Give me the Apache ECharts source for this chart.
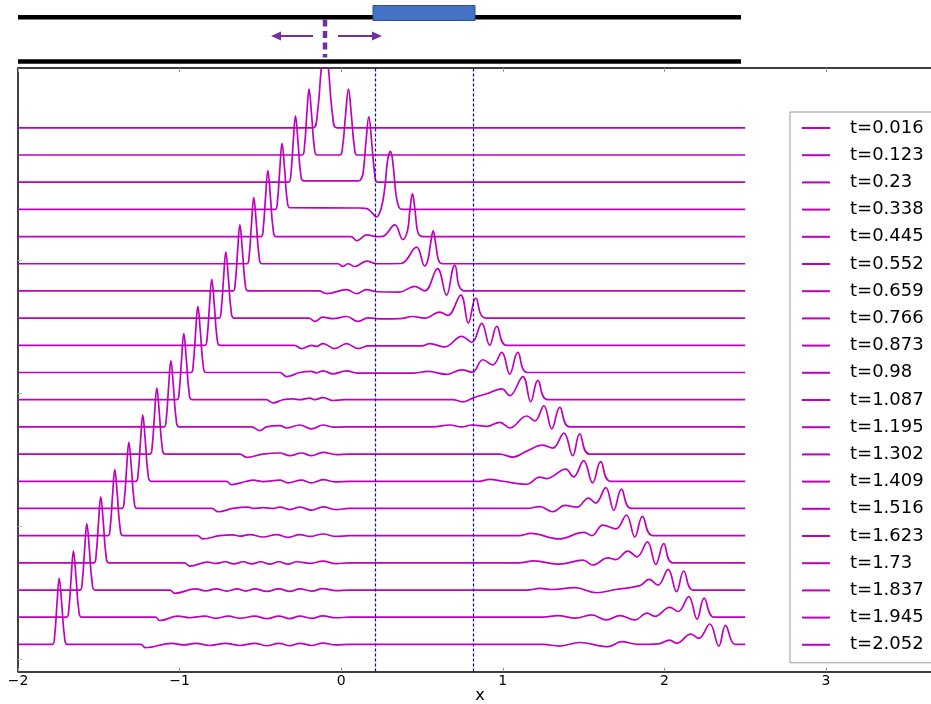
<!DOCTYPE html>
<html><head><meta charset="utf-8">
<script src="https://cdn.jsdelivr.net/npm/echarts@6/dist/echarts.min.js"></script>
<style>html,body{margin:0;padding:0;background:#fff}#c{width:931px;height:704px}</style>
</head><body><div id="c"></div>
<script>
const tValues = [0.016,0.123,0.23,0.338,0.445,0.552,0.659,0.766,0.873,0.98,1.087,1.195,1.302,1.409,1.516,1.623,1.73,1.837,1.945,2.052];
const xTickValues = [-2,-1,0,1,2,3];
const yTickValues = [-0.54,4.35,9.24,14.13,19.02];
const barrierX = [0.213, 0.816];

const c0 = [[-2,0],[-0.175,0],[-0.149,0.46],[-0.125,2.06],[-0.101,3.4],[-0.077,2.06],[-0.053,0.46],[-0.027,0],[2.5,0]];
const c1 = [[-2,0],[-0.241,0],[-0.227,0.33],[-0.213,1.47],[-0.199,2.42],[-0.183,1.47],[-0.167,0.33],[-0.149,0],[-0.009,0],[0.009,0.33],[0.027,1.47],[0.045,2.42],[0.063,1.47],[0.081,0.33],[0.099,0],[2.5,0]];
const c2 = [[-2,0],[-0.325,0],[-0.311,0.33],[-0.297,1.47],[-0.283,2.43],[-0.267,1.47],[-0.251,0.33],[-0.233,0.05],[0.10,0.05],[0.117,0.07],[0.135,0.33],[0.153,1.46],[0.171,2.40],[0.189,1.46],[0.207,0.33],[0.225,0],[2.5,0]];
const c3 = [[-2,0],[-0.408,0],[-0.394,0.33],[-0.380,1.47],[-0.366,2.43],[-0.350,1.47],[-0.334,0.33],[-0.316,0.06],[0.12,0.05],[0.16,0.03],[0.19,-0.12],[0.218,-0.28],[0.248,0.05],[0.270,0.8],[0.287,1.8],[0.305,2.13],[0.322,1.6],[0.340,0.5],[0.358,0.07],[0.378,0],[2.5,0]];
const c4 = [[-2,0],[-0.496,0],[-0.482,0.33],[-0.468,1.47],[-0.454,2.43],[-0.438,1.47],[-0.422,0.33],[-0.404,0],[0.06,0],[0.097,-0.15],[0.158,0.06],[0.22,0],[0.257,0.01],[0.332,0.43],[0.381,-0.11],[0.41,0.21],[0.425,0.96],[0.441,1.58],[0.457,0.96],[0.472,0.21],[0.49,0.02],[0.51,0],[2.5,0]];
const c5 = [[-2,0],[-0.583,0],[-0.569,0.33],[-0.555,1.47],[-0.541,2.43],[-0.525,1.47],[-0.509,0.33],[-0.491,0],[-0.02,0],[0.010,-0.10],[0.041,0],[0.084,-0.10],[0.158,0.10],[0.22,0],[0.37,0.01],[0.466,0.61],[0.517,-0.08],[0.537,0.16],[0.553,0.73],[0.569,1.21],[0.585,0.73],[0.601,0.16],[0.62,0.01],[0.64,0],[2.5,0]];
const c6 = [[-2,0],[-0.669,0],[-0.655,0.33],[-0.641,1.47],[-0.627,2.43],[-0.611,1.47],[-0.595,0.33],[-0.577,0],[-0.14,0],[-0.089,-0.10],[0.033,0.05],[0.095,-0.10],[0.157,0.05],[0.22,-0.03],[0.36,-0.04],[0.455,0.17],[0.517,0],[0.596,0.82],[0.652,-0.16],[0.703,0.94],[0.765,0],[2.5,0]];
const c7 = [[-2,0],[-0.756,0],[-0.742,0.33],[-0.728,1.47],[-0.714,2.43],[-0.698,1.47],[-0.682,0.33],[-0.664,0],[-0.20,0],[-0.163,-0.12],[-0.114,0.04],[-0.052,-0.02],[0.035,0.06],[0.103,-0.12],[0.165,0.01],[0.25,-0.03],[0.363,-0.02],[0.443,0.06],[0.517,0],[0.610,0.22],[0.660,0.10],[0.740,0.85],[0.787,-0.18],[0.833,0.74],[0.895,0],[2.5,0]];
const c8 = [[-2,0],[-0.843,0],[-0.829,0.33],[-0.815,1.47],[-0.801,2.43],[-0.785,1.47],[-0.769,0.33],[-0.751,0],[-0.29,0],[-0.246,-0.12],[-0.184,0],[-0.153,-0.04],[-0.112,0.06],[-0.040,-0.12],[0.033,0.06],[0.105,-0.12],[0.17,-0.02],[0.50,-0.02],[0.548,0.06],[0.641,-0.06],[0.746,0.33],[0.808,0.11],[0.870,0.81],[0.919,0],[0.963,0.70],[1.025,0],[2.5,0]];
const c9 = [[-2,0],[-0.929,0],[-0.915,0.33],[-0.901,1.47],[-0.887,2.43],[-0.871,1.47],[-0.855,0.33],[-0.837,0],[-0.38,0],[-0.338,-0.15],[-0.256,0],[-0.184,0.04],[-0.153,-0.01],[-0.112,0.06],[-0.052,-0.05],[0.033,0.06],[0.10,-0.02],[0.45,-0.02],[0.536,0.04],[0.653,-0.07],[0.746,0.10],[0.812,0.01],[0.876,0.47],[0.938,0.28],[0.994,0.74],[1.043,-0.06],[1.093,0.74],[1.155,0],[2.5,0]];
const c10 = [[-2,0],[-1.016,0],[-1.002,0.33],[-0.988,1.47],[-0.974,2.43],[-0.958,1.47],[-0.942,0.33],[-0.924,0],[-0.465,0],[-0.421,-0.12],[-0.361,0],[-0.298,0.03],[-0.256,0],[-0.194,0.06],[-0.163,0],[-0.112,0.08],[-0.052,-0.03],[0.02,0],[0.69,0],[0.752,-0.08],[0.814,0.06],[0.901,0.22],[0.994,0.40],[1.043,0.15],[1.124,0.85],[1.173,-0.07],[1.217,0.71],[1.278,0],[2.5,0]];
const c11 = [[-2,0],[-1.096,0],[-1.082,0.33],[-1.068,1.47],[-1.054,2.43],[-1.038,1.47],[-1.022,0.33],[-1.004,0],[-0.555,0],[-0.504,-0.14],[-0.462,0],[-0.380,0.05],[-0.338,-0.04],[-0.256,0.07],[-0.184,-0.07],[-0.112,0.07],[-0.052,-0.01],[0.02,0],[0.567,0],[0.672,0.07],[0.746,0],[0.808,0.07],[0.90,0.02],[0.982,0.17],[1.043,-0.04],[1.148,0.40],[1.198,0.22],[1.254,0.77],[1.303,-0.07],[1.353,0.72],[1.415,0],[2.5,0]];
const c12 = [[-2,0],[-1.183,0],[-1.169,0.33],[-1.155,1.47],[-1.141,2.43],[-1.125,1.47],[-1.109,0.33],[-1.091,0],[-0.627,0],[-0.586,-0.12],[-0.483,0],[-0.380,0.04],[-0.318,-0.06],[-0.246,0.04],[-0.184,-0.06],[-0.112,0.06],[-0.029,-0.02],[0.05,0],[0.98,0],[1.062,-0.11],[1.148,0.11],[1.247,0.33],[1.309,0.22],[1.378,0.77],[1.433,-0.06],[1.476,0.74],[1.538,0],[2.5,0]];
const c13 = [[-2,0],[-1.270,0],[-1.256,0.33],[-1.242,1.47],[-1.228,2.43],[-1.212,1.47],[-1.196,0.33],[-1.178,0],[-0.71,0],[-0.679,-0.12],[-0.586,0],[-0.545,0.04],[-0.483,-0.01],[-0.380,0.04],[-0.329,-0.06],[-0.246,0.04],[-0.184,-0.06],[-0.112,0.06],[-0.040,-0.02],[0.05,0],[0.85,0],[0.920,0.07],[1.0,0],[1.148,-0.11],[1.229,0.15],[1.272,0.10],[1.389,0.45],[1.438,0.16],[1.500,0.76],[1.556,-0.06],[1.606,0.72],[1.667,0],[2.5,0]];
const c14 = [[-2,0],[-1.356,0],[-1.342,0.33],[-1.328,1.47],[-1.314,2.43],[-1.298,1.47],[-1.282,0.33],[-1.264,0],[-0.80,0],[-0.762,-0.12],[-0.669,0],[-0.576,0.05],[-0.545,0],[-0.483,0.03],[-0.420,0],[-0.380,0.05],[-0.318,-0.04],[-0.256,0.05],[-0.184,-0.06],[-0.112,0.06],[-0.033,-0.04],[0.05,0],[1.15,0],[1.229,0.07],[1.309,-0.12],[1.384,0.11],[1.458,0.05],[1.530,0.38],[1.575,0.20],[1.637,0.77],[1.687,-0.07],[1.734,0.71],[1.796,0],[2.5,0]];
const c15 = [[-2,0],[-1.443,0],[-1.429,0.33],[-1.415,1.47],[-1.401,2.43],[-1.385,1.47],[-1.369,0.33],[-1.351,0],[-0.89,0],[-0.855,-0.12],[-0.751,0],[-0.669,0.03],[-0.627,-0.02],[-0.566,0.04],[-0.483,-0.05],[-0.400,0.04],[-0.329,-0.06],[-0.256,0.04],[-0.194,-0.03],[-0.112,0.06],[-0.033,-0.03],[0.05,0],[1.10,0],[1.173,0.085],[1.347,-0.12],[1.502,0.12],[1.552,0],[1.619,0.39],[1.70,0.25],[1.765,0.76],[1.817,-0.05],[1.864,0.71],[1.928,0],[2.5,0]];
const c16 = [[-2,0],[-1.530,0],[-1.516,0.33],[-1.502,1.47],[-1.488,2.43],[-1.472,1.47],[-1.456,0.33],[-1.438,0],[-0.97,0],[-0.937,-0.12],[-0.827,0.03],[-0.776,-0.02],[-0.717,0.04],[-0.665,-0.04],[-0.606,0.04],[-0.553,-0.04],[-0.498,0.04],[-0.442,-0.05],[-0.386,0.04],[-0.330,-0.05],[-0.275,0.04],[-0.19,-0.02],[-0.114,0.06],[-0.033,-0.03],[0.05,0],[1.10,0],[1.192,0.07],[1.35,-0.05],[1.496,0.10],[1.558,-0.08],[1.650,0.18],[1.699,0.12],[1.774,0.43],[1.830,0.22],[1.895,0.77],[1.947,-0.06],[1.996,0.71],[2.052,0],[2.5,0]];
const c17 = [[-2,0],[-1.616,0],[-1.602,0.33],[-1.588,1.47],[-1.574,2.43],[-1.558,1.47],[-1.542,0.33],[-1.524,0],[-1.06,0],[-1.030,-0.12],[-0.900,0.04],[-0.838,-0.03],[-0.772,0.04],[-0.708,-0.04],[-0.643,0.04],[-0.590,-0.04],[-0.535,0.04],[-0.460,-0.05],[-0.386,0.04],[-0.318,-0.05],[-0.256,0.04],[-0.182,-0.04],[-0.114,0.05],[-0.033,-0.02],[0.05,0],[1.15,0],[1.229,0.06],[1.30,0.02],[1.446,0.085],[1.580,-0.10],[1.70,0.02],[1.848,0.16],[1.905,0.39],[1.961,0.18],[2.023,0.76],[2.075,-0.06],[2.120,0.70],[2.178,0],[2.5,0]];
const c18 = [[-2,0],[-1.699,0],[-1.685,0.33],[-1.671,1.47],[-1.657,2.43],[-1.641,1.47],[-1.625,0.33],[-1.607,0],[-1.15,0],[-1.122,-0.12],[-1.011,0.04],[-0.937,-0.02],[-0.844,0.04],[-0.776,-0.04],[-0.698,0.04],[-0.627,-0.04],[-0.535,0.04],[-0.460,-0.05],[-0.386,0.04],[-0.318,-0.05],[-0.256,0.04],[-0.182,-0.04],[-0.114,0.05],[-0.033,-0.02],[0.05,0],[1.25,0],[1.340,0.06],[1.45,-0.03],[1.549,0.085],[1.642,-0.10],[1.724,0.06],[1.817,-0.10],[1.893,0.15],[1.941,0.03],[2.033,0.36],[2.085,0.21],[2.151,0.76],[2.202,-0.07],[2.246,0.70],[2.306,0],[2.5,0]];
const c19 = [[-2,0],[-1.787,0],[-1.773,0.33],[-1.759,1.47],[-1.745,2.43],[-1.729,1.47],[-1.713,0.33],[-1.695,0],[-1.24,0],[-1.212,-0.12],[-1.048,0.04],[-0.974,-0.02],[-0.900,0.04],[-0.813,-0.04],[-0.717,0.04],[-0.627,-0.04],[-0.535,0.04],[-0.460,-0.05],[-0.386,0.04],[-0.318,-0.05],[-0.256,0.04],[-0.182,-0.04],[-0.114,0.05],[-0.033,-0.02],[0.05,0],[1.25,0],[1.352,-0.06],[1.476,0.07],[1.650,-0.085],[1.735,0.10],[1.835,0],[1.96,0.02],[2.033,0.16],[2.077,0.04],[2.163,0.38],[2.213,0.22],[2.281,0.75],[2.337,-0.06],[2.378,0.70],[2.436,0],[2.5,0]];

const curves = [c0,c1,c2,c3,c4,c5,c6,c7,c8,c9,c10,c11,c12,c13,c14,c15,c16,c17,c18,c19];
const names = tValues.map(t => 't=' + t);
const LINE = '#bf00bf';
const FONT = 'DejaVu Sans';
const PURPLE = '#7030a0';

const series = curves.map((c, i) => ({
  name: names[i], type: 'line', xAxisIndex: 0, yAxisIndex: 0,
  data: c.map(p => [p[0], p[1] + (curves.length - 1 - i)]),
  smooth: 0.4, symbol: 'none', showSymbol: false, silent: true, animation: false, clip: true,
  lineStyle: { color: LINE, width: 1.7 }, itemStyle: { color: LINE },
  z: 2
}));
series[0].markLine = {
  silent: true, symbol: 'none', animation: false, label: { show: false }, z: 5,
  lineStyle: { width: 1.2, type: [3, 2], color: '#0000ff', opacity: 1 },
  data: [
    { xAxis: barrierX[0], lineStyle: { color: '#0000ff', width: 1.2, type: [3, 2], opacity: 1 } },
    { xAxis: barrierX[1], lineStyle: { color: '#0000cc', width: 1.2, type: [3, 2], opacity: 1 } }
  ]
};

const chart = echarts.init(document.getElementById('c'), null, { renderer: 'canvas' });
chart.setOption({
  animation: false,
  backgroundColor: '#fff',
  grid: { left: 18, top: 68, width: 924, height: 603.6, containLabel: false, outerBoundsMode: 'none' },
  xAxis: [{
    type: 'value', min: xTickValues[0], max: 3.718, interval: 1, position: 'bottom',
    axisLine: { show: true, onZero: false, lineStyle: { color: '#000', width: 1.5 } },
    axisTick: { show: true, inside: true, length: 4, lineStyle: { color: '#999' } },
    axisLabel: { show: true, showMaxLabel: false, margin: 3, fontSize: 14, fontFamily: FONT, color: '#000',
      formatter: v => (v < 0 ? '\u2212' + Math.abs(v) : String(v)) },
    splitLine: { show: false },
    name: 'x', nameLocation: 'middle', nameGap: 24, nameMoveOverlap: false,
    nameTextStyle: { fontSize: 16, fontFamily: FONT, color: '#000', verticalAlign: 'middle' }
  }, {
    type: 'value', min: xTickValues[0], max: 3.718, interval: 1, position: 'top',
    axisLine: { show: true, onZero: false, lineStyle: { color: '#000', width: 1.5 } },
    axisTick: { show: true, inside: true, length: 4, lineStyle: { color: '#999' } },
    axisLabel: { show: false }, splitLine: { show: false }
  }],
  yAxis: [{
    type: 'value', min: -1, max: 21.2, position: 'left',
    axisLine: { show: true, onZero: false, lineStyle: { color: '#000', width: 1.5 } },
    axisTick: { show: true, inside: true, length: 4, lineStyle: { color: '#bbb' }, customValues: yTickValues },
    axisLabel: { show: false }, splitLine: { show: false }
  }],
  legend: {
    data: names, orient: 'vertical', left: 790, top: 112,
    padding: [6, 40, 8, 12], itemWidth: 28, itemHeight: 2, itemGap: 7.2,
    icon: 'rect',
    backgroundColor: '#fff', borderColor: '#9a9a9a', borderWidth: 1, borderRadius: 0,
    selectedMode: false,
    textStyle: { fontSize: 18, fontFamily: FONT, color: '#000', lineHeight: 20, padding: [0, 0, 0, 15] }
  },
  graphic: [
    { type: 'rect', shape: { x: 18, y: 15, width: 723, height: 4.5 }, style: { fill: '#000' } },
    { type: 'rect', shape: { x: 18, y: 59.3, width: 723, height: 4.5 }, style: { fill: '#000' } },
    { type: 'rect', shape: { x: 373, y: 5.5, width: 102, height: 15 }, style: { fill: '#4472c4', stroke: '#2f528f', lineWidth: 1 } },
    { type: 'line', shape: { x1: 325, y1: 19.5, x2: 325, y2: 57.5 }, style: { stroke: PURPLE, lineWidth: 4.5, lineDash: [7, 4.5] } },
    { type: 'line', shape: { x1: 313, y1: 36, x2: 279, y2: 36 }, style: { stroke: PURPLE, lineWidth: 2 } },
    { type: 'polygon', shape: { points: [[271, 36], [281, 31.5], [281, 40.5]] }, style: { fill: PURPLE } },
    { type: 'line', shape: { x1: 338, y1: 36, x2: 374, y2: 36 }, style: { stroke: PURPLE, lineWidth: 2 } },
    { type: 'polygon', shape: { points: [[382, 36], [372, 31.5], [372, 40.5]] }, style: { fill: PURPLE } }
  ],
  series: series
});
</script>
</body></html>
